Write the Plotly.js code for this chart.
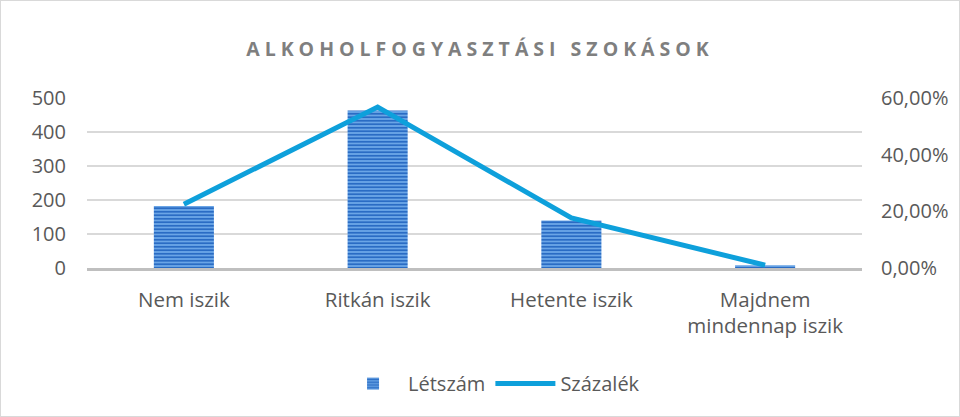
<!DOCTYPE html>
<html><head><meta charset="utf-8">
<script src="https://cdn.plot.ly/plotly-3.0.1.min.js"></script>
<style>
html,body{margin:0;padding:0;background:#fff;}
#chart{width:958px;height:415px;border:1px solid #d9d9d9;}
.gtitle{letter-spacing:5px;}
</style></head><body>
<div id="chart"></div>
<script>
const categories = ["Nem iszik", "Ritkán iszik", "Hetente iszik", "Majdnem<br>mindennap iszik"];
const letszam = [182, 463, 140, 8];
const szazalek = [0.225, 0.568, 0.177, 0.01];
const leftTicks = [0, 100, 200, 300, 400, 500];
const rightTicks = [0, 0.2, 0.4, 0.6];

const fontFam = '"Open Sans", sans-serif';
const traces = [
  {type:'bar', x:categories, y:letszam, name:'Létszám', width:0.31,
   marker:{color:'#4a8ad8', line:{width:0},
     pattern:{shape:'-', fgcolor:'#2a6cc4', bgcolor:'#6aa5e6', size:3.5, solidity:0.5}},
   yaxis:'y'},
  {type:'scatter', mode:'lines', x:categories, y:szazalek, name:'Százalék',
   line:{color:'#0ea0db', width:5}, yaxis:'y2'}
];
const layout = {
  width:958, height:415, separators:', ',
  paper_bgcolor:'#fff', plot_bgcolor:'#fff',
  margin:{l:86, r:97, t:97, b:148},
  font:{family:fontFam, size:20, color:'#595959'},
  title:{text:'<b>ALKOHOLFOGYASZTÁSI SZOKÁSOK</b>', x:0.5, xanchor:'center', y:0.884, yanchor:'middle',
    font:{family:fontFam, size:19.5, color:'#7f7f7f'}},
  xaxis:{showgrid:false, showline:true, linecolor:'#bfbfbf', linewidth:3, ticks:'',
    ticklabelstandoff:11, tickfont:{size:20.5, color:'#595959'}, fixedrange:true},
  yaxis:{range:[0,500], tickvals:leftTicks, showgrid:true, gridcolor:'#d9d9d9', gridwidth:1.5,
    zeroline:false, showline:false, ticks:'', ticklabelstandoff:20, tickfont:{size:20, color:'#595959'}},
  yaxis2:{range:[0,0.6], tickvals:rightTicks, tickformat:'.2%', overlaying:'y', side:'right',
    showgrid:false, zeroline:false, showline:false, ticks:'', ticklabelstandoff:18, tickfont:{size:20, color:'#595959'}},
  legend:{orientation:'h', x:0.522, xanchor:'center', y:-0.68, yanchor:'middle',
    font:{size:20, color:'#595959'}, itemwidth:60},
  showlegend:true
};
Plotly.newPlot('chart', traces, layout, {displayModeBar:false, staticPlot:true});
</script></body></html>
